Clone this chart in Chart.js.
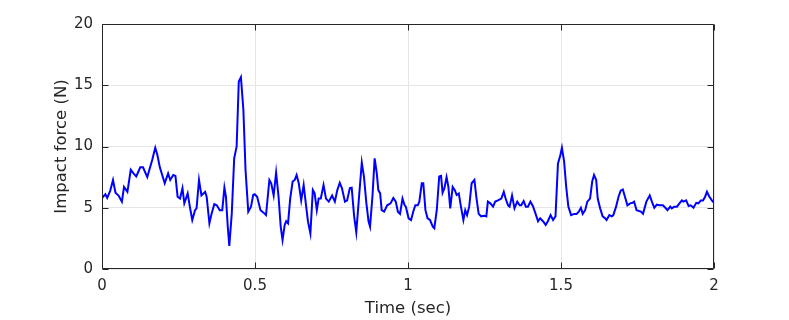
<!DOCTYPE html>
<html>
<head>
<meta charset="utf-8">
<script src="https://cdn.jsdelivr.net/npm/chart.js@4/dist/chart.umd.min.js"></script>
<style>
    html, body { margin: 0; padding: 0; background: #fff; }
    #wrap { width: 789px; height: 320px; }
</style>
</head>
<body>
<div id="wrap"><canvas id="myChart" width="789" height="320"></canvas></div>
<script>
// time (sec) and impact force (N)
const timeSec = [
    0.000, 0.011, 0.017, 0.027, 0.036, 0.044, 0.054, 0.065, 0.072, 0.083,
    0.094, 0.105, 0.112, 0.125, 0.134, 0.148, 0.156, 0.164, 0.174, 0.181,
    0.189, 0.205, 0.216, 0.223, 0.233, 0.240, 0.247, 0.255, 0.263, 0.269,
    0.280, 0.287, 0.295, 0.304, 0.309, 0.317, 0.325, 0.337, 0.342, 0.351,
    0.358, 0.367, 0.375, 0.385, 0.393, 0.400, 0.405, 0.411, 0.416, 0.424,
    0.432, 0.440, 0.447, 0.454, 0.462, 0.469, 0.478, 0.487, 0.494, 0.499,
    0.507, 0.518, 0.528, 0.536, 0.547, 0.553, 0.561, 0.569, 0.577, 0.584,
    0.590, 0.597, 0.602, 0.608, 0.615, 0.623, 0.630, 0.636, 0.643, 0.651,
    0.659, 0.666, 0.673, 0.681, 0.689, 0.695, 0.702, 0.708, 0.715, 0.724,
    0.732, 0.741, 0.752, 0.761, 0.769, 0.777, 0.784, 0.794, 0.801, 0.810,
    0.816, 0.824, 0.831, 0.840, 0.849, 0.856, 0.864, 0.871, 0.876, 0.884,
    0.891, 0.898, 0.903, 0.909, 0.914, 0.922, 0.932, 0.943, 0.952, 0.960,
    0.967, 0.974, 0.982, 0.989, 0.993, 1.002, 1.010, 1.017, 1.024, 1.032,
    1.037, 1.045, 1.050, 1.057, 1.064, 1.072, 1.081, 1.086, 1.094, 1.102,
    1.108, 1.113, 1.119, 1.126, 1.132, 1.138, 1.146, 1.153, 1.159, 1.166,
    1.173, 1.181, 1.187, 1.193, 1.200, 1.208, 1.217, 1.224, 1.231, 1.239,
    1.250, 1.256, 1.261, 1.269, 1.278, 1.285, 1.294, 1.305, 1.313, 1.319,
    1.327, 1.332, 1.340, 1.348, 1.357, 1.365, 1.370, 1.378, 1.385, 1.392,
    1.400, 1.408, 1.417, 1.425, 1.432, 1.441, 1.450, 1.457, 1.466, 1.474,
    1.482, 1.490, 1.498, 1.503, 1.510, 1.517, 1.524, 1.533, 1.543, 1.551,
    1.558, 1.565, 1.571, 1.579, 1.586, 1.595, 1.602, 1.608, 1.615, 1.620,
    1.628, 1.636, 1.644, 1.649, 1.658, 1.666, 1.671, 1.680, 1.688, 1.695,
    1.702, 1.709, 1.717, 1.726, 1.734, 1.739, 1.747, 1.761, 1.768, 1.779,
    1.790, 1.797, 1.805, 1.813, 1.822, 1.833, 1.841, 1.848, 1.857, 1.862,
    1.870, 1.879, 1.887, 1.895, 1.900, 1.909, 1.917, 1.924, 1.933, 1.942,
    1.949, 1.957, 1.964, 1.971, 1.977, 1.985, 1.993, 2.000
];
const forceN = [
    5.8, 6.1, 5.8, 6.4, 7.27, 6.23, 6.0, 5.5, 6.7, 6.3,
    8.1, 7.75, 7.55, 8.3, 8.3, 7.5, 8.2, 8.9, 9.9, 9.3,
    8.3, 7.0, 7.8, 7.27, 7.67, 7.6, 5.9, 5.75, 6.6, 5.36,
    6.17, 5.09, 4.0, 4.8, 4.95, 7.27, 6.0, 6.3, 5.9, 3.73,
    4.5, 5.3, 5.2, 4.8, 4.8, 6.64, 5.9, 3.46, 1.88, 4.5,
    9.03, 10.0, 15.3, 15.65, 13.0, 8.1, 4.68, 5.09, 6.04, 6.1,
    5.9, 4.8, 4.6, 4.4, 7.27, 7.0, 6.0, 7.86, 5.9, 3.46,
    2.37, 3.6, 3.9, 3.73, 5.75, 7.14, 7.27, 7.67, 7.0, 5.6,
    6.85, 5.36, 3.9, 2.9, 6.44, 6.17, 4.8, 5.75, 5.75, 6.85,
    5.75, 5.5, 6.0, 5.5, 6.44, 7.03, 6.6, 5.5, 5.6, 6.6,
    6.64, 4.3, 3.0, 5.9, 8.68, 7.55, 5.36, 3.9, 3.46, 6.0,
    9.03, 7.8, 6.44, 6.17, 4.8, 4.68, 5.2, 5.36, 5.8, 5.5,
    4.68, 4.5, 5.75, 5.2, 5.09, 4.14, 4.0, 4.68, 5.2, 5.2,
    5.5, 7.0, 7.0, 4.8, 4.14, 4.0, 3.46, 3.33, 4.8, 7.55,
    7.6, 6.23, 6.6, 7.5, 6.7, 4.95, 6.7, 6.44, 6.04, 6.17,
    5.09, 4.0, 4.8, 4.4, 5.09, 7.0, 7.27, 5.75, 4.5, 4.3,
    4.35, 4.3, 5.5, 5.36, 5.09, 5.5, 5.6, 5.75, 6.3, 5.75,
    5.2, 5.09, 6.0, 4.95, 5.5, 5.2, 5.2, 5.55, 5.09, 5.09,
    5.5, 5.14, 4.5, 3.9, 4.14, 3.9, 3.6, 3.9, 4.4, 4.0,
    4.3, 8.6, 9.3, 9.9, 8.8, 6.7, 5.09, 4.4, 4.5, 4.5,
    4.68, 5.0, 4.5, 4.8, 5.5, 5.75, 7.14, 7.67, 7.27, 5.75,
    4.95, 4.3, 4.14, 4.0, 4.4, 4.3, 4.4, 5.09, 5.9, 6.4,
    6.5, 5.9, 5.2, 5.36, 5.4, 5.5, 4.8, 4.68, 4.5, 5.5,
    6.0, 5.5, 5.0, 5.25, 5.2, 5.2, 5.0, 4.8, 5.09, 4.95,
    5.09, 5.09, 5.36, 5.6, 5.5, 5.6, 5.14, 5.2, 5.0, 5.4,
    5.36, 5.6, 5.6, 5.9, 6.3, 5.9, 5.6, 5.4
];
const xTicks = [0, 0.5, 1, 1.5, 2];
const yTicks = [0, 5, 10, 15, 20];

const axisColor = '#262626';
const fontFamily = '"DejaVu Sans", sans-serif';

// matlab style box + ticks pointing inward
const boxPlugin = {
    id: 'boxPlugin',
    afterDatasetsDraw(chart) {
        const ctx = chart.ctx;
        const a = chart.chartArea;
        const xs = chart.scales.x;
        const ys = chart.scales.y;
        const L = Math.round(a.left) + 0.5, R = Math.round(a.right) - 0.5;
        const T = Math.round(a.top) + 0.5, B = Math.round(a.bottom) - 0.5;
        ctx.save();
        ctx.strokeStyle = axisColor;
        ctx.lineWidth = 1;
        ctx.beginPath();
        ctx.rect(L, T, R - L, B - T);
        const len = 6;
        xTicks.forEach((v) => {
            const px = Math.round(xs.getPixelForValue(v)) + 0.5;
            ctx.moveTo(px, B); ctx.lineTo(px, B - len);
            ctx.moveTo(px, T); ctx.lineTo(px, T + len);
        });
        yTicks.forEach((v) => {
            const py = Math.round(ys.getPixelForValue(v)) + 0.5;
            ctx.moveTo(L, py); ctx.lineTo(L + len, py);
            ctx.moveTo(R, py); ctx.lineTo(R - len, py);
        });
        ctx.stroke();
        ctx.restore();
    }
};

const points = timeSec.map((t, i) => ({ x: t, y: forceN[i] }));

const ctx = document.getElementById('myChart').getContext('2d');
const myChart = new Chart(ctx, {
    type: 'line',
    data: {
        datasets: [{
            data: points,
            borderColor: '#0000ff',
            borderWidth: 2,
            pointRadius: 0,
            tension: 0,
            fill: false
        }]
    },
    options: {
        responsive: false,
        animation: false,
        events: [],
        layout: { padding: { top: 24, right: 75, bottom: 0, left: 0 } },
        plugins: { legend: { display: false }, tooltip: { enabled: false } },
        scales: {
            x: {
                type: 'linear',
                min: 0,
                max: 2,
                afterBuildTicks: (scale) => { scale.ticks = xTicks.map(v => ({ value: v })); },
                afterFit: (scale) => { scale.height = 51; },
                grid: { color: '#e6e6e6', drawTicks: false },
                border: { display: false },
                ticks: {
                    padding: 8,
                    color: axisColor,
                    font: { family: fontFamily, size: 15 },
                    maxRotation: 0,
                    callback: (v) => String(v)
                },
                title: {
                    display: true,
                    text: 'Time (sec)',
                    color: axisColor,
                    font: { family: fontFamily, size: 16.5 },
                    padding: { top: 0, bottom: 1 }
                }
            },
            y: {
                min: 0,
                max: 20,
                afterBuildTicks: (scale) => { scale.ticks = yTicks.map(v => ({ value: v })); },
                afterFit: (scale) => { scale.width = 102; },
                grid: { color: '#e6e6e6', drawTicks: false },
                border: { display: false },
                ticks: {
                    padding: 9,
                    color: axisColor,
                    font: { family: fontFamily, size: 15 },
                    callback: (v) => String(v)
                },
                title: {
                    display: true,
                    text: 'Impact force (N)',
                    color: axisColor,
                    font: { family: fontFamily, size: 16.5 },
                    padding: { top: 52, bottom: 0 }
                }
            }
        }
    },
    plugins: [boxPlugin]
});
</script>
</body>
</html>
